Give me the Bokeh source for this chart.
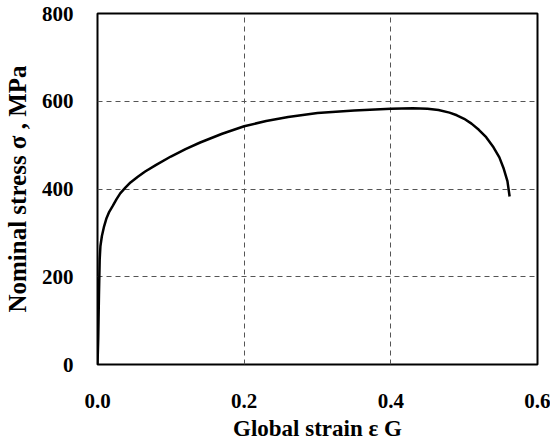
from bokeh.plotting import figure
from bokeh.models import Range1d, FixedTicker
from bokeh.embed import file_html
from bokeh.resources import INLINE

strain = [0.0, 0.001, 0.002, 0.003, 0.004, 0.006, 0.009, 0.012, 0.016, 0.021, 0.026, 0.031,
          0.038, 0.045, 0.055, 0.065, 0.08, 0.1, 0.12, 0.14, 0.17, 0.2, 0.23, 0.26, 0.3,
          0.35, 0.4, 0.43, 0.45, 0.465, 0.48, 0.49, 0.5, 0.51, 0.52, 0.53, 0.54, 0.548,
          0.554, 0.559, 0.562]
stress = [0, 60, 160, 240, 270, 293, 315, 332, 348, 362, 377, 390,
          403, 415, 428, 440, 455, 474, 491, 506, 526, 543, 555, 564, 573,
          579, 583, 584, 583, 580, 574, 568, 560, 549, 535, 518, 495, 472,
          446, 418, 383]
x_ticks = [0.0, 0.2, 0.4, 0.6]
y_ticks = [0, 200, 400, 600, 800]
x_labels = {0.0: "0.0", 0.2: "0.2", 0.4: "0.4", 0.6: "0.6"}
x_title = "Global strain ε G"
y_title = "Nominal stress σ , MPa"

FONT = "Liberation Serif"

p = figure(width=550, height=443, output_backend="svg", toolbar_location=None,
           x_range=Range1d(0, 0.6), y_range=Range1d(0, 800),
           min_border_left=97, min_border_right=13, min_border_top=13, min_border_bottom=79)

p.line(strain, stress, line_color="black", line_width=2.5, line_join="round")

p.outline_line_color = "black"
p.outline_line_width = 2
p.outline_line_alpha = 1

for ax in (p.xaxis[0], p.yaxis[0]):
    ax.axis_line_color = None
    ax.major_tick_line_color = None
    ax.minor_tick_line_color = None
    ax.major_label_text_font = FONT
    ax.major_label_text_font_style = "bold"
    ax.major_label_text_font_size = "21px"
    ax.major_label_text_color = "black"
    ax.axis_label_text_font = FONT
    ax.axis_label_text_font_style = "bold"
    ax.axis_label_text_color = "black"

p.xaxis.axis_label_text_font_size = "23px"
p.yaxis.axis_label_text_font_size = "25px"
p.xaxis.ticker = FixedTicker(ticks=x_ticks)
p.xaxis.major_label_overrides = {k: v for k, v in x_labels.items()}
p.yaxis.ticker = FixedTicker(ticks=y_ticks)
p.xaxis.major_label_standoff = 23
p.yaxis.major_label_standoff = 18
p.xaxis.axis_label = x_title
p.xaxis.axis_label_standoff = 5
p.yaxis.axis_label = y_title
p.yaxis.axis_label_standoff = 8

p.xgrid.ticker = FixedTicker(ticks=[0.2, 0.4])
p.ygrid.ticker = FixedTicker(ticks=[200, 400, 600])
for g in (p.xgrid[0], p.ygrid[0]):
    g.grid_line_color = "#555555"
    g.grid_line_dash = "5 4"
    g.grid_line_width = 1

open("out.html", "w").write(file_html(p, INLINE))
